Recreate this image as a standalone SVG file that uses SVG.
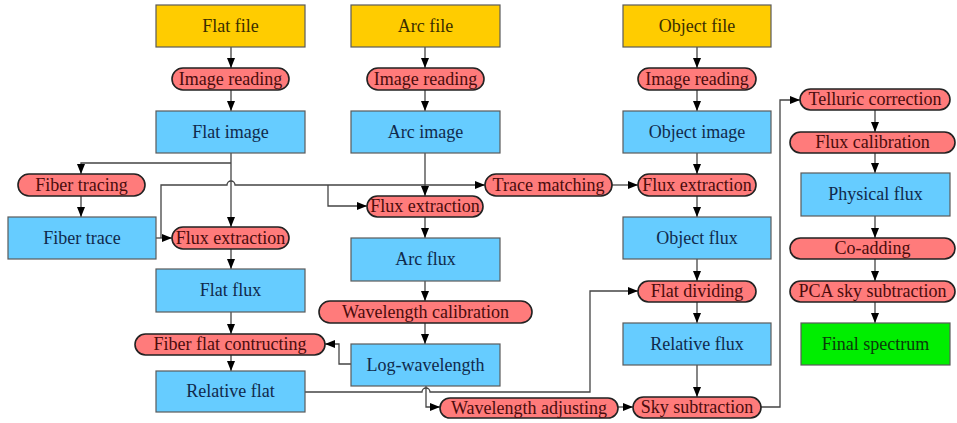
<svg xmlns="http://www.w3.org/2000/svg" width="957" height="423" viewBox="0 0 957 423">
<defs>
  <marker id="ah" markerUnits="userSpaceOnUse" markerWidth="11" markerHeight="9" refX="10" refY="4" orient="auto">
    <path d="M0,0 L10,4 L0,8 z" fill="#000"/>
  </marker>
</defs>
<rect width="957" height="423" fill="#fff"/>

<g id="connectors" fill="none" stroke="#444" stroke-width="1.3" marker-end="url(#ah)">
  <path d="M231,47 V68"/>
  <path d="M231,90 V111"/>
  <path d="M231,153 V227"/>
  <path d="M231,163 H81 V174"/>
  <path d="M81,196 V217"/>
  <path d="M156,238 H172"/>
  <path d="M161,238 V185 H227 A4,4 0 0 1 235,185 H485"/>
  <path d="M328,185 V206 H367"/>
  <path d="M425,47 V68"/>
  <path d="M425,90 V111"/>
  <path d="M425,153 V196"/>
  <path d="M425,217 V238"/>
  <path d="M425,281 V301"/>
  <path d="M425,323 V344"/>
  <path d="M351,364 H339 V344 H325"/>
  <path d="M231,249 V269"/>
  <path d="M231,312 V334"/>
  <path d="M231,355 V371"/>
  <path d="M305,392 H422 A4,4 0 0 1 430,392 H590 V291 H638"/>
  <path d="M426,386 V407 H440"/>
  <path d="M618,407 H633"/>
  <path d="M697,47 V68"/>
  <path d="M697,90 V111"/>
  <path d="M697,153 V174"/>
  <path d="M697,196 V217"/>
  <path d="M697,259 V281"/>
  <path d="M697,302 V323"/>
  <path d="M697,365 V397"/>
  <path d="M612,185 H638"/>
  <path d="M761,407 H780 V100 H800"/>
  <path d="M875,110 V132"/>
  <path d="M875,153 V173"/>
  <path d="M875,216 V238"/>
  <path d="M875,259 V281"/>
  <path d="M875,302 V323"/>
</g>

<g id="files" fill="#FFCC00" stroke="#5a5a5a" stroke-width="1.2">
<g id="flat-file"><rect x="156" y="5" width="149" height="42"/><text fill="#3a2e00" stroke="none" font-family="Liberation Serif" font-size="18" text-anchor="middle" x="230.5" y="32">Flat file</text></g>
<g id="arc-file"><rect x="351" y="5" width="149" height="42"/><text fill="#3a2e00" stroke="none" font-family="Liberation Serif" font-size="18" text-anchor="middle" x="425.5" y="32">Arc file</text></g>
<g id="object-file"><rect x="623" y="5" width="148" height="42"/><text fill="#3a2e00" stroke="none" font-family="Liberation Serif" font-size="18" text-anchor="middle" x="697" y="32">Object file</text></g>
</g>

<g id="data" fill="#66CCFF" stroke="#5a5a5a" stroke-width="1.2">
<g id="flat-image"><rect x="156" y="111" width="149" height="42"/><text fill="#102a4c" stroke="none" font-family="Liberation Serif" font-size="18" text-anchor="middle" x="230.5" y="138">Flat image</text></g>
<g id="fiber-trace"><rect x="8" y="217" width="148" height="42"/><text fill="#102a4c" stroke="none" font-family="Liberation Serif" font-size="18" text-anchor="middle" x="82" y="244">Fiber trace</text></g>
<g id="flat-flux"><rect x="156" y="269" width="149" height="43"/><text fill="#102a4c" stroke="none" font-family="Liberation Serif" font-size="18" text-anchor="middle" x="230.5" y="296">Flat flux</text></g>
<g id="relative-flat"><rect x="156" y="371" width="149" height="41"/><text fill="#102a4c" stroke="none" font-family="Liberation Serif" font-size="18" text-anchor="middle" x="230.5" y="397">Relative flat</text></g>
<g id="arc-image"><rect x="351" y="111" width="149" height="42"/><text fill="#102a4c" stroke="none" font-family="Liberation Serif" font-size="18" text-anchor="middle" x="425.5" y="138">Arc image</text></g>
<g id="arc-flux"><rect x="351" y="238" width="149" height="43"/><text fill="#102a4c" stroke="none" font-family="Liberation Serif" font-size="18" text-anchor="middle" x="425.5" y="265">Arc flux</text></g>
<g id="log-wavelength"><rect x="351" y="344" width="149" height="42"/><text fill="#102a4c" stroke="none" font-family="Liberation Serif" font-size="18" text-anchor="middle" x="425.5" y="371">Log-wavelength</text></g>
<g id="object-image"><rect x="623" y="111" width="148" height="42"/><text fill="#102a4c" stroke="none" font-family="Liberation Serif" font-size="18" text-anchor="middle" x="697" y="138">Object image</text></g>
<g id="object-flux"><rect x="623" y="217" width="148" height="42"/><text fill="#102a4c" stroke="none" font-family="Liberation Serif" font-size="18" text-anchor="middle" x="697" y="244">Object flux</text></g>
<g id="relative-flux"><rect x="623" y="323" width="148" height="42"/><text fill="#102a4c" stroke="none" font-family="Liberation Serif" font-size="18" text-anchor="middle" x="697" y="350">Relative flux</text></g>
<g id="physical-flux"><rect x="801" y="173" width="149" height="43"/><text fill="#102a4c" stroke="none" font-family="Liberation Serif" font-size="18" text-anchor="middle" x="875.5" y="200">Physical flux</text></g>
</g>

<g id="final" fill="#00EE00" stroke="#5a5a5a" stroke-width="1.2">
<g id="final-spectrum"><rect x="801" y="323" width="149" height="42"/><text fill="#0a3a0a" stroke="none" font-family="Liberation Serif" font-size="18" text-anchor="middle" x="875.5" y="350">Final spectrum</text></g>
</g>

<g id="processes" fill="#FF7B7B" stroke="#222" stroke-width="1.6">
<g id="flat-image-reading"><rect x="172" y="68" width="117" height="22" rx="11"/><text fill="#4a0c0c" stroke="none" font-family="Liberation Serif" font-size="18" text-anchor="middle" x="230.5" y="85">Image reading</text></g>
<g id="fiber-tracing"><rect x="18" y="174" width="127" height="22" rx="11"/><text fill="#4a0c0c" stroke="none" font-family="Liberation Serif" font-size="18" text-anchor="middle" x="81.5" y="191">Fiber tracing</text></g>
<g id="flat-flux-extraction"><rect x="172" y="227" width="117" height="22" rx="11"/><text fill="#4a0c0c" stroke="none" font-family="Liberation Serif" font-size="18" text-anchor="middle" x="230.5" y="244">Flux extraction</text></g>
<g id="fiber-flat-contructing"><rect x="135" y="334" width="190" height="21" rx="10.5"/><text fill="#4a0c0c" stroke="none" font-family="Liberation Serif" font-size="18" text-anchor="middle" x="230" y="350">Fiber flat contructing</text></g>
<g id="arc-image-reading"><rect x="367" y="68" width="117" height="22" rx="11"/><text fill="#4a0c0c" stroke="none" font-family="Liberation Serif" font-size="18" text-anchor="middle" x="425.5" y="85">Image reading</text></g>
<g id="arc-flux-extraction"><rect x="367" y="196" width="116" height="21" rx="10.5"/><text fill="#4a0c0c" stroke="none" font-family="Liberation Serif" font-size="18" text-anchor="middle" x="425" y="212">Flux extraction</text></g>
<g id="wavelength-calibration"><rect x="319" y="301" width="213" height="22" rx="11"/><text fill="#4a0c0c" stroke="none" font-family="Liberation Serif" font-size="18" text-anchor="middle" x="425.5" y="318">Wavelength calibration</text></g>
<g id="wavelength-adjusting"><rect x="440" y="398" width="178" height="20" rx="10"/><text fill="#4a0c0c" stroke="none" font-family="Liberation Serif" font-size="18" text-anchor="middle" x="529" y="414">Wavelength adjusting</text></g>
<g id="trace-matching"><rect x="485" y="174" width="127" height="22" rx="11"/><text fill="#4a0c0c" stroke="none" font-family="Liberation Serif" font-size="18" text-anchor="middle" x="548.5" y="191">Trace matching</text></g>
<g id="object-image-reading"><rect x="638" y="68" width="118" height="22" rx="11"/><text fill="#4a0c0c" stroke="none" font-family="Liberation Serif" font-size="18" text-anchor="middle" x="697" y="85">Image reading</text></g>
<g id="object-flux-extraction"><rect x="638" y="174" width="118" height="22" rx="11"/><text fill="#4a0c0c" stroke="none" font-family="Liberation Serif" font-size="18" text-anchor="middle" x="697" y="191">Flux extraction</text></g>
<g id="flat-dividing"><rect x="638" y="281" width="118" height="21" rx="10.5"/><text fill="#4a0c0c" stroke="none" font-family="Liberation Serif" font-size="18" text-anchor="middle" x="697" y="297">Flat dividing</text></g>
<g id="sky-subtraction"><rect x="633" y="397" width="128" height="21" rx="10.5"/><text fill="#4a0c0c" stroke="none" font-family="Liberation Serif" font-size="18" text-anchor="middle" x="697" y="413">Sky subtraction</text></g>
<g id="telluric-correction"><rect x="800" y="89" width="150" height="21" rx="10.5"/><text fill="#4a0c0c" stroke="none" font-family="Liberation Serif" font-size="18" text-anchor="middle" x="875" y="105">Telluric correction</text></g>
<g id="flux-calibration"><rect x="790" y="132" width="165" height="21" rx="10.5"/><text fill="#4a0c0c" stroke="none" font-family="Liberation Serif" font-size="18" text-anchor="middle" x="872.5" y="148">Flux calibration</text></g>
<g id="co-adding"><rect x="790" y="238" width="165" height="21" rx="10.5"/><text fill="#4a0c0c" stroke="none" font-family="Liberation Serif" font-size="18" text-anchor="middle" x="872.5" y="254">Co-adding</text></g>
<g id="pca-sky-subtraction"><rect x="790" y="281" width="165" height="21" rx="10.5"/><text fill="#4a0c0c" stroke="none" font-family="Liberation Serif" font-size="18" text-anchor="middle" x="872.5" y="297">PCA sky subtraction</text></g>
</g>
</svg>
